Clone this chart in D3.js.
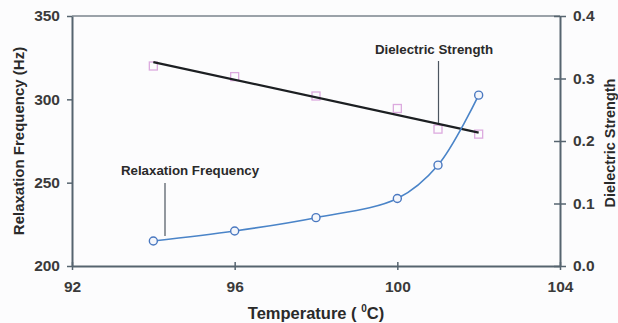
<!DOCTYPE html>
<html>
<head>
<meta charset="utf-8">
<script src="https://cdn.jsdelivr.net/npm/d3@7"></script>
<style>
  body { margin: 0; background: #fcfcfd; }
  svg { display: block; }
  text { font-family: "Liberation Sans", Arial, sans-serif; font-weight: bold; }
</style>
</head>
<body>
<svg id="chart" width="618" height="323"></svg>
<script>
// Measurements
const temperatures = [94, 96, 98, 100, 101, 102];
const relaxationFrequency = [215, 221, 229, 240.5, 260.5, 302.5];
const dielectricStrength = [0.320, 0.303, 0.272, 0.252, 0.219, 0.211];

// Axis ticks
const xTicks = [92, 96, 100, 104];
const yLeftTicks = [200, 250, 300, 350];
const yRightTicks = [0, 0.1, 0.2, 0.3, 0.4];

const plot = { left: 72, right: 560, top: 16, bottom: 266 };
const axisColor = "#56646f";
const tickText = "#3a3a3a";

const svg = d3.select("#chart");

const x = d3.scaleLinear().domain([92, 104]).range([plot.left, plot.right]);
const yL = d3.scaleLinear().domain([200, 350]).range([plot.bottom, plot.top]);
const yR = d3.scaleLinear().domain([0, 0.4]).range([plot.bottom, plot.top]);

// plot frame (top edge)
svg.append("line")
  .attr("x1", plot.left).attr("x2", plot.right)
  .attr("y1", plot.top).attr("y2", plot.top)
  .attr("stroke", "#7b858d").attr("stroke-width", 1.5);

function styleAxis(g) {
  g.selectAll("path.domain").attr("stroke", axisColor).attr("stroke-width", 2);
  g.selectAll(".tick line").attr("stroke", axisColor).attr("stroke-width", 1.5);
  g.selectAll(".tick text").attr("fill", tickText).attr("font-size", 15.5)
    .attr("font-family", "'Liberation Sans', Arial, sans-serif").attr("font-weight", "bold");
}

// left axis
const gL = svg.append("g").attr("transform", `translate(${plot.left},0)`)
  .call(d3.axisLeft(yL).tickValues(yLeftTicks).tickSize(5).tickSizeOuter(0).tickPadding(7));
styleAxis(gL);

// right axis (ticks cross the line)
const gR = svg.append("g").attr("transform", `translate(${plot.right},0)`)
  .call(d3.axisRight(yR).tickValues(yRightTicks).tickFormat(d3.format(".1f"))
    .tickSize(6).tickSizeOuter(0).tickPadding(7));
gR.selectAll(".tick line").attr("x1", -6);
styleAxis(gR);

// bottom axis
const gB = svg.append("g").attr("transform", `translate(0,${plot.bottom})`)
  .call(d3.axisBottom(x).tickValues(xTicks).tickSize(4).tickSizeOuter(0).tickPadding(11));
gB.selectAll(".tick line").attr("y1", -4);
styleAxis(gB);

// axis titles
svg.append("text")
  .attr("transform", `translate(24,${(plot.top + plot.bottom) / 2}) rotate(-90)`)
  .attr("text-anchor", "middle").attr("font-size", 15).attr("fill", "#2a2a2a")
  .text("Relaxation Frequency (Hz)");

svg.append("text")
  .attr("transform", `translate(615,${(plot.top + plot.bottom) / 2 + 2}) rotate(-90)`)
  .attr("text-anchor", "middle").attr("font-size", 14.5).attr("fill", "#2a2a2a")
  .text("Dielectric Strength");

const xt = svg.append("text")
  .attr("x", (plot.left + plot.right) / 2).attr("y", 319)
  .attr("text-anchor", "middle").attr("font-size", 16.5).attr("fill", "#2a2a2a");
xt.append("tspan").text("Temperature ( ");
xt.append("tspan").attr("font-size", 10).attr("dy", -7).text("0");
xt.append("tspan").attr("dy", 7).text("C)");

// dielectric strength: least-squares trend line
const mx = d3.mean(temperatures), my = d3.mean(dielectricStrength);
const slope = d3.sum(temperatures, (t, i) => (t - mx) * (dielectricStrength[i] - my)) /
              d3.sum(temperatures, t => (t - mx) ** 2);
const icpt = my - slope * mx;
const t0 = d3.min(temperatures), t1 = d3.max(temperatures);

// dielectric strength markers
const ds = temperatures.map((t, i) => ({ t, v: dielectricStrength[i] }));
svg.append("g").selectAll("rect").data(ds).join("rect")
  .attr("x", d => x(d.t) - 4).attr("y", d => yR(d.v) - 4)
  .attr("width", 8).attr("height", 8)
  .attr("fill", "none").attr("stroke", "#dcaadf").attr("stroke-width", 1.3);

svg.append("line")
  .attr("x1", x(t0)).attr("y1", yR(icpt + slope * t0))
  .attr("x2", x(t1)).attr("y2", yR(icpt + slope * t1))
  .attr("stroke", "#1c1f22").attr("stroke-width", 2.2);

// relaxation frequency: smoothed line with circle markers
const rf = temperatures.map((t, i) => ({ t, v: relaxationFrequency[i] }));
svg.append("path").datum(rf)
  .attr("d", d3.line().x(d => x(d.t)).y(d => yL(d.v)).curve(d3.curveCatmullRom.alpha(0.5)))
  .attr("fill", "none").attr("stroke", "#4a84c8").attr("stroke-width", 1.6);

svg.append("g").selectAll("circle").data(rf).join("circle")
  .attr("cx", d => x(d.t)).attr("cy", d => yL(d.v)).attr("r", 4)
  .attr("fill", "#f4f6fb").attr("stroke", "#4a78c0").attr("stroke-width", 1.4);

// callout labels with leader lines
svg.append("text").attr("x", 190).attr("y", 175)
  .attr("text-anchor", "middle").attr("font-size", 13.3).attr("fill", "#2a2a2a")
  .text("Relaxation Frequency");
svg.append("line").attr("x1", 165).attr("x2", 165).attr("y1", 183).attr("y2", 236)
  .attr("stroke", "#4c5560").attr("stroke-width", 1.2);

svg.append("text").attr("x", 434).attr("y", 54)
  .attr("text-anchor", "middle").attr("font-size", 13.3).attr("fill", "#2a2a2a")
  .text("Dielectric Strength");
svg.append("line").attr("x1", 438.5).attr("x2", 438.5).attr("y1", 61).attr("y2", 123)
  .attr("stroke", "#4c5560").attr("stroke-width", 1.2);
</script>
</body>
</html>
